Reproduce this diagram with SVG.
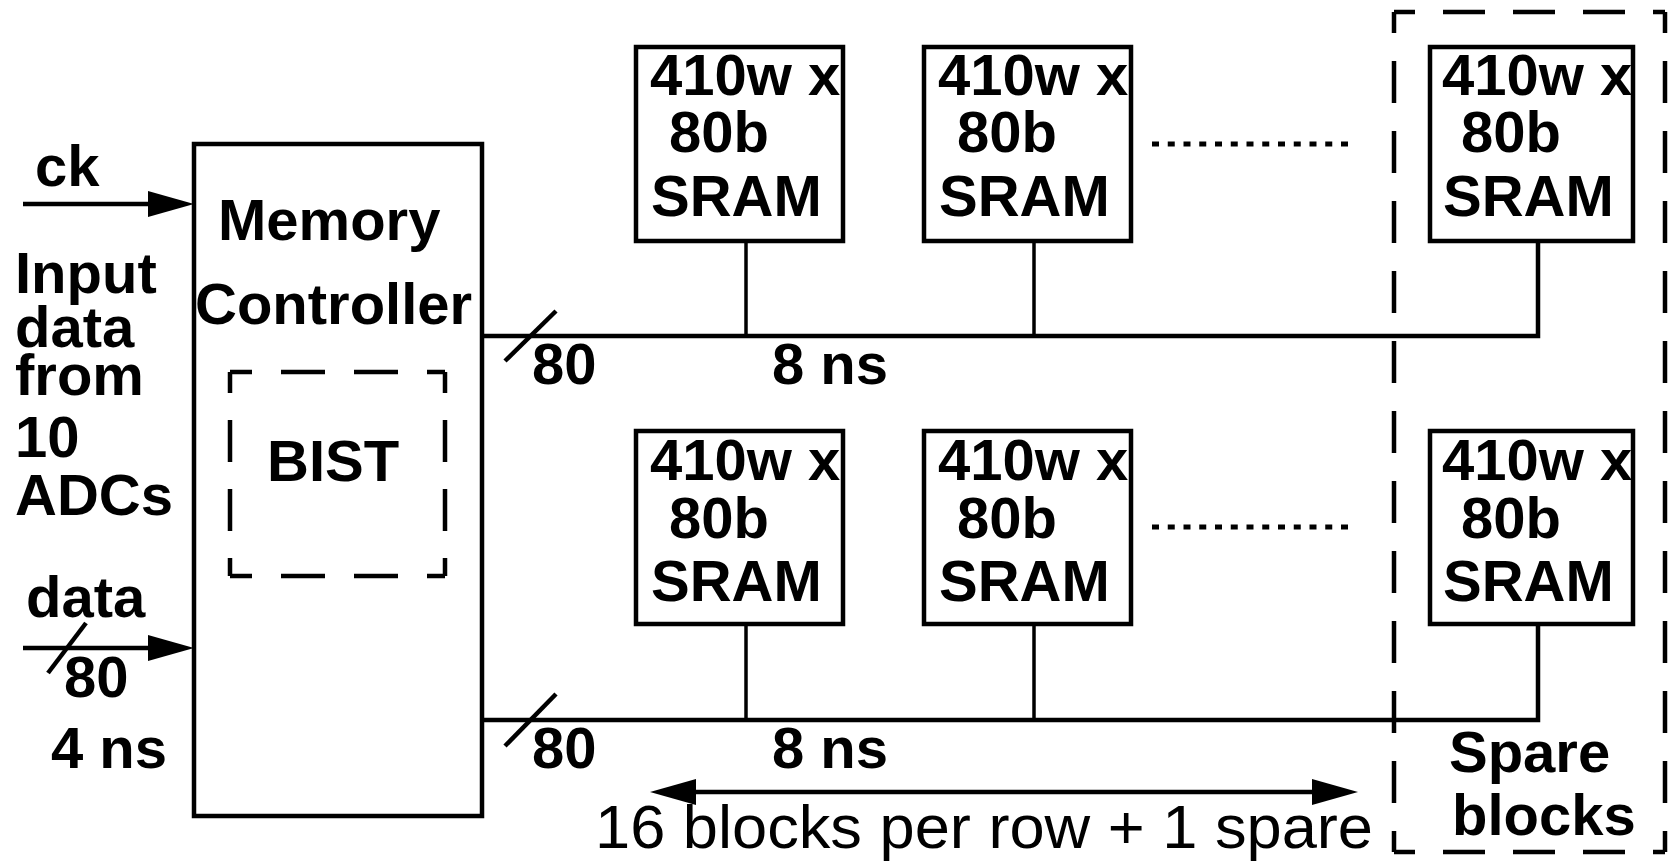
<svg xmlns="http://www.w3.org/2000/svg" width="1669" height="861" viewBox="0 0 1669 861">
<style>
.b{font-family:"Liberation Sans",Arial,sans-serif;font-weight:bold;font-size:58px;fill:#000}
.s{font-family:"Liberation Sans",Arial,sans-serif;font-weight:bold;font-size:58px;fill:#000}
.r{font-family:"Liberation Sans",Arial,sans-serif;font-weight:normal;font-size:62px;fill:#000}
.box{fill:#fff;stroke:#000;stroke-width:4.5}
.ln{stroke:#000;stroke-width:4.5;fill:none}
.stem{stroke:#000;stroke-width:3.5;fill:none}
.dh{stroke:#000;stroke-width:4.5;stroke-dasharray:42 28;stroke-dashoffset:21}
.bh{stroke:#000;stroke-width:4.5;stroke-dasharray:44 29;stroke-dashoffset:22}
.bv{stroke:#000;stroke-width:4.5;stroke-dasharray:42 27;stroke-dashoffset:21}
.dot{stroke:#000;stroke-width:5;stroke-dasharray:7 8.75}
</style>
<defs>
<marker id="ah" markerUnits="userSpaceOnUse" markerWidth="46" markerHeight="26" refX="0" refY="13" orient="auto-start-reverse" overflow="visible">
<path d="M0,0 L46,13 L0,26 z" fill="#000"/>
</marker>
</defs>

<g id="spare-region">
<line class="dh" x1="1394" y1="12" x2="1665" y2="12"/>
<line class="dh" x1="1394" y1="852" x2="1665" y2="852"/>
<line class="dh" x1="1394" y1="12" x2="1394" y2="852"/>
<line class="dh" x1="1665" y1="12" x2="1665" y2="852"/>
<text class="b" x="1449" y="772">Spare</text>
<text class="b" x="1452" y="835">blocks</text>
</g>

<g id="connectors">
<line class="ln" x1="23" y1="204" x2="148" y2="204" marker-end="url(#ah)"/>
<line class="ln" x1="23" y1="648" x2="148" y2="648" marker-end="url(#ah)"/>
<line class="ln" x1="48" y1="673" x2="86" y2="623"/>
<polyline class="ln" points="482,336 1538,336 1538,241"/>
<polyline class="ln" points="482,720 1538,720 1538,624"/>
<line class="ln" x1="505" y1="361" x2="556" y2="311"/>
<line class="ln" x1="505" y1="746" x2="556" y2="694"/>
<line class="stem" x1="746" y1="241" x2="746" y2="336"/>
<line class="stem" x1="1034" y1="241" x2="1034" y2="336"/>
<line class="stem" x1="746" y1="624" x2="746" y2="720"/>
<line class="stem" x1="1034" y1="624" x2="1034" y2="720"/>
<line class="ln" x1="696" y1="792" x2="1312" y2="792" marker-start="url(#ah)" marker-end="url(#ah)"/>
<line class="dot" x1="1152" y1="144" x2="1348" y2="144"/>
<line class="dot" x1="1152" y1="527" x2="1348" y2="527"/>
</g>

<g id="labels">
<text class="b" x="35" y="186">ck</text>
<text class="b" x="15" y="293">Input</text>
<text class="b" x="15" y="347">data</text>
<text class="b" x="15" y="395">from</text>
<text class="b" x="15" y="457">10</text>
<text class="b" x="15" y="515">ADCs</text>
<text class="b" x="26" y="617">data</text>
<text class="b" x="64" y="697">80</text>
<text class="b" x="51" y="768">4 ns</text>
<text class="b" x="532" y="384">80</text>
<text class="b" x="532" y="768">80</text>
<text class="b" x="772" y="384">8 ns</text>
<text class="b" x="772" y="768">8 ns</text>
<text class="r" x="595" y="848" textLength="778" lengthAdjust="spacingAndGlyphs">16 blocks per row + 1 spare</text>
</g>

<g id="memory-controller">
<rect class="box" x="194" y="144" width="288" height="672"/>
<text class="b" x="218" y="240">Memory</text>
<text class="b" x="195" y="324">Controller</text>
</g>

<g id="bist">
<line class="bh" x1="230" y1="372" x2="445" y2="372"/>
<line class="bh" x1="230" y1="576" x2="445" y2="576"/>
<line class="bv" x1="230" y1="372" x2="230" y2="576"/>
<line class="bv" x1="445" y1="372" x2="445" y2="576"/>
<text class="b" x="267" y="481">BIST</text>
</g>

<g id="sram-r1-c1">
<rect class="box" x="636" y="47" width="207" height="194"/>
<text class="s" x="650" y="95">410w x</text>
<text class="s" x="669" y="152">80b</text>
<text class="s" x="651" y="216">SRAM</text>
</g>
<g id="sram-r1-c2">
<rect class="box" x="924" y="47" width="207" height="194"/>
<text class="s" x="938" y="95">410w x</text>
<text class="s" x="957" y="152">80b</text>
<text class="s" x="939" y="216">SRAM</text>
</g>
<g id="sram-r1-spare">
<rect class="box" x="1430" y="47" width="203" height="194"/>
<text class="s" x="1442" y="95">410w x</text>
<text class="s" x="1461" y="152">80b</text>
<text class="s" x="1443" y="216">SRAM</text>
</g>
<g id="sram-r2-c1">
<rect class="box" x="636" y="431" width="207" height="193"/>
<text class="s" x="650" y="480">410w x</text>
<text class="s" x="669" y="538">80b</text>
<text class="s" x="651" y="601">SRAM</text>
</g>
<g id="sram-r2-c2">
<rect class="box" x="924" y="431" width="207" height="193"/>
<text class="s" x="938" y="480">410w x</text>
<text class="s" x="957" y="538">80b</text>
<text class="s" x="939" y="601">SRAM</text>
</g>
<g id="sram-r2-spare">
<rect class="box" x="1430" y="431" width="203" height="193"/>
<text class="s" x="1442" y="480">410w x</text>
<text class="s" x="1461" y="538">80b</text>
<text class="s" x="1443" y="601">SRAM</text>
</g>
</svg>
